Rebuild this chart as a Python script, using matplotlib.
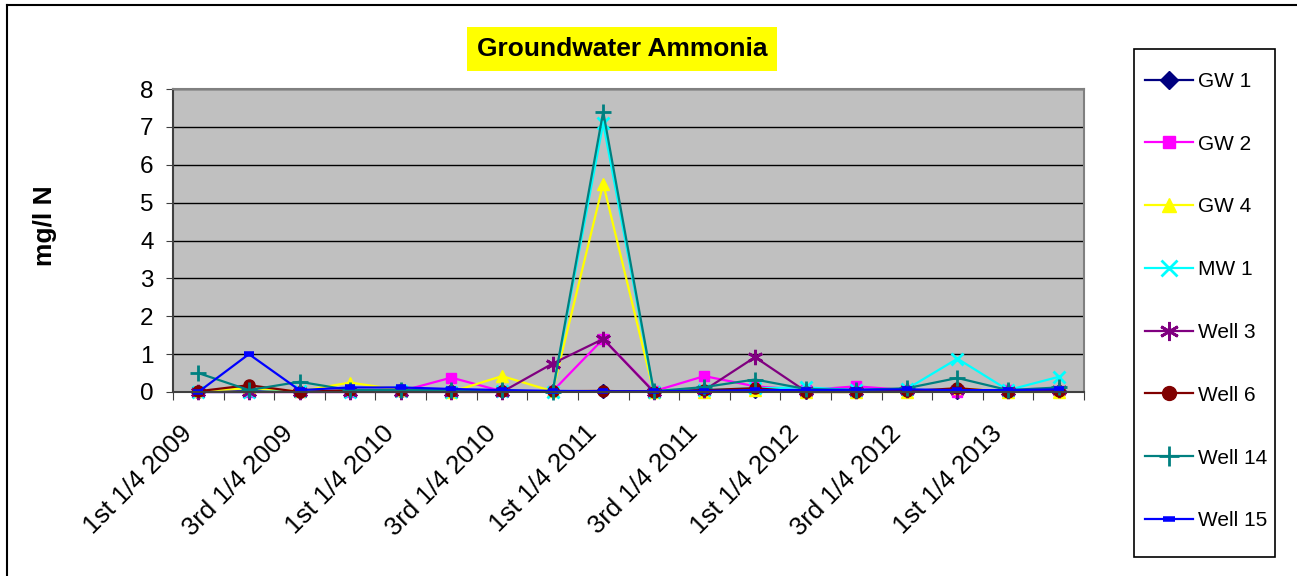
import matplotlib
matplotlib.use("Agg")
import matplotlib.pyplot as plt
import matplotlib.transforms as mtransforms
from matplotlib.lines import Line2D
from matplotlib.patches import Rectangle

plt.rcParams["font.family"] = ["Liberation Sans", "DejaVu Sans"]

# --- data ----------------------------------------------------------------- #
quarters = ["1st 1/4 2009", "2nd 1/4 2009", "3rd 1/4 2009", "4th 1/4 2009",
            "1st 1/4 2010", "2nd 1/4 2010", "3rd 1/4 2010", "4th 1/4 2010",
            "1st 1/4 2011", "2nd 1/4 2011", "3rd 1/4 2011", "4th 1/4 2011",
            "1st 1/4 2012", "2nd 1/4 2012", "3rd 1/4 2012", "4th 1/4 2012",
            "1st 1/4 2013", "2nd 1/4 2013"]

gw1 = [0.01, 0.02, 0.01, 0.02, 0.03, 0.02, 0.02, 0.02, 0.02,
       0.01, 0.02, 0.02, 0.01, 0.02, 0.02, 0.01, 0.02, 0.02]
gw2 = [0.0, 0.0, 0.0, 0.0, 0.02, 0.38, 0.02, 0.02, 1.4,
       0.02, 0.42, 0.15, 0.05, 0.15, 0.05, 0.0, 0.05, 0.02]
gw4 = [0.02, 0.1, 0.02, 0.25, 0.05, 0.0, 0.42, 0.02, 5.5,
       0.0, 0.0, 0.05, 0.0, 0.0, 0.0, 0.1, 0.0, 0.0]
mw1 = [0.0, 0.0, 0.02, 0.0, 0.02, 0.0, 0.02, 0.0, 7.1,
       0.0, 0.05, 0.1, 0.12, 0.05, 0.08, 0.88, 0.05, 0.4]
well3 = [0.0, 0.0, 0.0, 0.0, 0.0, 0.0, 0.0, 0.75, 1.4,
         0.0, 0.05, 0.92, 0.02, 0.02, 0.05, 0.05, 0.02, 0.05]
well6 = [0.02, 0.18, 0.0, 0.05, 0.05, 0.02, 0.02, 0.02, 0.03,
         0.0, 0.05, 0.1, 0.0, 0.0, 0.02, 0.1, 0.0, 0.02]
well14 = [0.5, 0.05, 0.27, 0.05, 0.05, 0.05, 0.05, 0.0, 7.4,
          0.02, 0.13, 0.33, 0.08, 0.05, 0.1, 0.37, 0.05, 0.12]
well15 = [0.0, 1.0, 0.05, 0.12, 0.12, 0.08, 0.05, 0.03, 0.02,
          0.02, 0.03, 0.05, 0.05, 0.06, 0.07, 0.05, 0.05, 0.07]

series = [
    ("GW 1", gw1, "#000080", "D", {}),
    ("GW 2", gw2, "#FF00FF", "s", {}),
    ("GW 4", gw4, "#FFFF00", "^", {"ms": 8}),
    ("MW 1", mw1, "#00FFFF", "x", {"mew": 2, "ms": 9}),
    ("Well 3", well3, "#800080", (6, 2, 0), {"mew": 2, "ms": 11}),
    ("Well 6", well6, "#800000", "o", {"ms": 8}),
    ("Well 14", well14, "#008080", "+", {"mew": 2, "ms": 11}),
    ("Well 15", well15, "#0000FF", "_", {"mew": 4, "ms": 7}),
]

# --- chart ---------------------------------------------------------------- #
W, H = 1297, 576
fig = plt.figure(figsize=(W / 100, H / 100), dpi=100)
ax = fig.add_axes([173 / W, 1 - 392 / H, (1084 - 173) / W, (392 - 89) / H])
ax.set_facecolor("#C0C0C0")

x = list(range(len(quarters)))
for name, vals, col, mk, kw in series:
    opts = dict(color=col, lw=1.6, marker=mk, ms=7, mfc=col, mec=col, label=name)
    opts.update(kw)
    ax.plot(x, vals, clip_on=False, **opts)

ax.set_xlim(-0.5, len(quarters) - 0.5)
ax.set_ylim(0, 8)
ax.set_yticks(range(0, 9))
ax.yaxis.grid(True, color="black", lw=1)
ax.set_axisbelow(True)
ax.tick_params(axis="y", labelsize=17.5, length=5, color="#404040", pad=9)

# ticks on category boundaries, labels on every other category centre
ax.set_xticks([i - 0.5 for i in range(len(quarters) + 1)])
ax.set_xticklabels([])
ax.tick_params(axis="x", which="major", length=6, color="#404040")
ax.set_xticks(x[::2], minor=True)
ax.set_xticklabels(quarters[::2], minor=True, rotation=45, ha="right",
                   va="center", rotation_mode="anchor", fontsize=18.5)
ax.tick_params(axis="x", which="minor", length=0, pad=27)
shift = mtransforms.ScaledTranslation(-10 / 100, 0, fig.dpi_scale_trans)
for lab in ax.get_xticklabels(minor=True):
    lab.set_transform(lab.get_transform() + shift)

for s in ("top", "right"):
    ax.spines[s].set_color("#808080")
    ax.spines[s].set_linewidth(1.5)
for s in ("left", "bottom"):
    ax.spines[s].set_color("#404040")
    ax.spines[s].set_linewidth(1.5)

fig.text(622 / W, 1 - 49 / H, "Groundwater Ammonia", ha="center", va="center",
         fontsize=19, fontweight="bold",
         bbox=dict(facecolor="#FFFF00", edgecolor="none", pad=7))
fig.text(45 / W, 1 - 226 / H, "mg/l N", rotation=90, ha="center", va="center",
         fontsize=19, fontweight="bold")

# legend box drawn separately so the entries can sit inside it freely
fig.add_artist(Rectangle((1134 / W, 1 - 557 / H), (1275 - 1134) / W, (557 - 49) / H,
                         transform=fig.transFigure, fill=False, edgecolor="black", lw=1.2))
leg = fig.legend(loc="upper left", bbox_to_anchor=(1145 / W, 1 - 72 / H),
                 frameon=False, fontsize=15, labelspacing=2.1, handlelength=2.3,
                 handletextpad=0.25, borderpad=0, borderaxespad=0, markerscale=1.25)

# outer chart border (left / top)
fig.add_artist(Line2D([7 / W, 7 / W], [0, 1 - 5 / H], color="black", lw=1.5))
fig.add_artist(Line2D([7 / W, 1], [1 - 5 / H, 1 - 5 / H], color="black", lw=1.5))

fig.savefig("out.png", dpi=100)
